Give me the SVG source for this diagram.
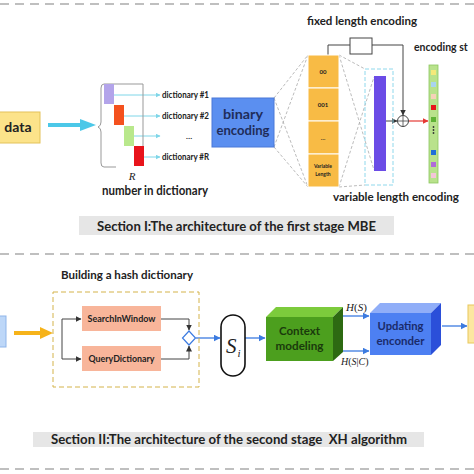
<svg xmlns="http://www.w3.org/2000/svg" width="474" height="474" viewBox="0 0 474 474">
<defs>
<marker id="mk" markerWidth="6" markerHeight="6" refX="5.5" refY="3" orient="auto" markerUnits="userSpaceOnUse"><path d="M0,0 L6,3 L0,6 z" fill="#333"/></marker>
<marker id="mb" markerWidth="7" markerHeight="7" refX="6.5" refY="3.5" orient="auto" markerUnits="userSpaceOnUse"><path d="M0,0 L7,3.5 L0,7 z" fill="#3C7BE0"/></marker>
<marker id="mc" markerWidth="5" markerHeight="5" refX="4.5" refY="2.5" orient="auto" markerUnits="userSpaceOnUse"><path d="M0,0 L5,2.5 L0,5 z" fill="#7FD6E8"/></marker>
<marker id="mr" markerWidth="6" markerHeight="6" refX="5.5" refY="3" orient="auto" markerUnits="userSpaceOnUse"><path d="M0,0 L6,3 L0,6 z" fill="#E53935"/></marker>
</defs>
<style>
.t{font-family:"Lato","Liberation Sans",sans-serif;font-weight:bold;fill:#222}
.sep{stroke:#aaa;stroke-width:1.5;stroke-dasharray:9 6;fill:none}
.gd{stroke:#aaa;stroke-width:0.8;stroke-dasharray:3 2;fill:none}
.ln{stroke:#444;stroke-width:1;fill:none}
.bl{stroke:#3C7BE0;stroke-width:1.3;fill:none}
.m{font-family:"Liberation Serif","DejaVu Serif",serif;fill:#222}
.lab{fill:#E6E6E6}
</style>
<rect width="474" height="474" fill="#fff"/>

<g id="separators">
<line class="sep" x1="0" y1="4" x2="474" y2="4"/>
<line class="sep" x1="0" y1="254" x2="474" y2="254"/>
<line class="sep" x1="0" y1="469" x2="474" y2="469"/>
</g>

<g id="connectors">
<path d="M48,125 H82" stroke="#4CC8E8" stroke-width="4" fill="none"/>
<polygon points="80,119 96,125 80,131" fill="#4CC8E8"/>
<path d="M114,95 H160" stroke="#7FD6E8" stroke-width="1" marker-end="url(#mc)"/>
<path d="M124,116 H160" stroke="#7FD6E8" stroke-width="1" marker-end="url(#mc)"/>
<path d="M134,136 H160" stroke="#7FD6E8" stroke-width="1" marker-end="url(#mc)"/>
<path d="M144,157 H160" stroke="#7FD6E8" stroke-width="1" marker-end="url(#mc)"/>
<path class="gd" d="M274,98 L308,55 M274,147 L308,55 M274,98 L308,187 M274,147 L308,187"/>
<path class="gd" d="M339,55 L365,69 M339,55 L374,170 M339,187 L374,77 M339,187 L365,185"/>
<path class="ln" d="M328,55 V45 H350"/>
<path class="ln" d="M372,45 H403 V115" marker-end="url(#mk)"/>
<path class="ln" d="M386,121 H397" marker-end="url(#mk)"/>
<path d="M409,121 H428" stroke="#E53935" stroke-width="1.2" fill="none" marker-end="url(#mr)"/>
<path d="M14,333 H42" stroke="#F6B31A" stroke-width="4" fill="none"/>
<polygon points="40,327 53,333 40,339" fill="#F6B31A"/>
<path class="ln" d="M62,339 V319 H81" marker-end="url(#mk)"/>
<path class="ln" d="M62,339 V359 H81" marker-end="url(#mk)"/>
<path class="ln" d="M161,319 H189 V330" marker-end="url(#mk)"/>
<path class="ln" d="M161,359 H189 V346" marker-end="url(#mk)"/>
<path class="bl" d="M196,338 H220" marker-end="url(#mb)"/>
<path class="bl" d="M245,338 H265" marker-end="url(#mb)"/>
<path class="bl" d="M343,316 H369" marker-end="url(#mb)"/>
<path class="bl" d="M343,351 H369" marker-end="url(#mb)"/>
<path class="bl" d="M442,326 H467" marker-end="url(#mb)"/>
</g>

<g id="data">
<rect x="-2" y="112" width="42" height="31" fill="#FCE38A" stroke="#E3C25A" stroke-width="1"/>
<text class="t" x="18" y="132" font-size="14" text-anchor="middle">data</text>
</g>

<g id="dictionaries">
<path d="M104,84 Q101,84 101,88 L101,122 Q101,126 98,127 Q101,128 101,132 L101,163 Q101,167 104,167" fill="none" stroke="#999" stroke-width="1"/>
<path d="M104,84 H143 V146 M104,167 H116" fill="none" stroke="#999" stroke-width="1"/>
<rect x="104" y="84" width="10" height="20" fill="#B3A4EA"/>
<rect x="114" y="105" width="10" height="20" fill="#F4511E"/>
<rect x="124" y="126" width="10" height="20" fill="#B9E88C"/>
<rect x="134" y="146" width="10" height="20" fill="#E8141B"/>
<text class="t" x="162" y="98" font-size="9" textLength="47" lengthAdjust="spacingAndGlyphs">dictionary #1</text>
<text class="t" x="162" y="119" font-size="9" textLength="47" lengthAdjust="spacingAndGlyphs">dictionary #2</text>
<text class="t" x="189" y="139" font-size="8" text-anchor="middle">…</text>
<text class="t" x="162" y="160" font-size="9" textLength="47" lengthAdjust="spacingAndGlyphs">dictionary #R</text>
<text class="m" x="132" y="180" font-size="11" font-style="italic" text-anchor="middle">R</text>
<text class="t" x="102" y="195" font-size="12.5" textLength="106" lengthAdjust="spacingAndGlyphs">number in dictionary</text>
</g>

<g id="binary-encoding">
<rect x="212" y="98" width="62" height="49" fill="#5B8FF0" stroke="#4A78D8" stroke-width="1"/>
<text class="t" x="243" y="119" font-size="13" text-anchor="middle" style="fill:#1F2D5A" textLength="40" lengthAdjust="spacingAndGlyphs">binary</text>
<text class="t" x="243" y="135" font-size="13" text-anchor="middle" style="fill:#1F2D5A" textLength="53" lengthAdjust="spacingAndGlyphs">encoding</text>
</g>

<g id="code-column">
<rect x="308" y="55" width="31" height="33" fill="#F8BB45" stroke="#fff" stroke-width="1"/>
<rect x="308" y="88" width="31" height="33" fill="#F8BB45" stroke="#fff" stroke-width="1"/>
<rect x="308" y="121" width="31" height="33" fill="#F8BB45" stroke="#fff" stroke-width="1"/>
<rect x="308" y="154" width="31" height="33" fill="#F8BB45" stroke="#fff" stroke-width="1"/>
<text class="t" x="323" y="74" font-size="6" text-anchor="middle">00</text>
<text class="t" x="323" y="107" font-size="6" text-anchor="middle">001</text>
<text class="t" x="323" y="140" font-size="6" text-anchor="middle">…</text>
<text class="t" x="323" y="168" font-size="5" text-anchor="middle">Variable</text>
<text class="t" x="323" y="176" font-size="5" text-anchor="middle">Length</text>
</g>

<g id="variable-length">
<rect x="365" y="69" width="28" height="116" fill="none" stroke="#8FD8EC" stroke-width="1" stroke-dasharray="4 2"/>
<rect x="374" y="76" width="12" height="95" fill="#6B4CE6"/>
</g>

<g id="fixed-box">
<rect x="350" y="38" width="22" height="16" fill="#fff" stroke="#444" stroke-width="1"/>
</g>

<g id="xor">
<circle cx="403" cy="121" r="5.5" fill="#fff" stroke="#444" stroke-width="1"/>
<path d="M397.5,121 H408.5 M403,115.5 V126.5" stroke="#444" stroke-width="0.8"/>
</g>

<g id="encoding-stream">
<rect x="429" y="65" width="9" height="118" fill="#B9E28C" stroke="#8CC760" stroke-width="0.8"/>
<rect x="431" y="70" width="5" height="5" fill="#F5E97A"/>
<rect x="431" y="82" width="5" height="5" fill="#A9D4F0"/>
<rect x="431" y="94" width="5" height="5" fill="#F6D2B8"/>
<rect x="431" y="105" width="5" height="5" fill="#E8141B"/>
<rect x="431" y="117" width="5" height="5" fill="#5FB336"/>
<circle cx="433.5" cy="127" r="0.9" fill="#333"/>
<circle cx="433.5" cy="130" r="0.9" fill="#333"/>
<circle cx="433.5" cy="133" r="0.9" fill="#333"/>
<rect x="431" y="150" width="5" height="5" fill="#1F6FD8"/>
<rect x="431" y="162" width="5" height="5" fill="#B06BD8"/>
<rect x="431" y="173" width="5" height="5" fill="#F4C6D8"/>
</g>

<g id="labels-I">
<text class="t" x="307" y="25" font-size="12" textLength="110" lengthAdjust="spacingAndGlyphs">fixed length encoding</text>
<text class="t" x="414" y="51" font-size="10.5">encoding st</text>
<text class="t" x="333" y="201" font-size="12" textLength="126" lengthAdjust="spacingAndGlyphs">variable length encoding</text>
</g>

<g id="section-I">
<rect class="lab" x="79" y="216" width="315" height="19"/>
<text class="t" x="97" y="231" font-size="13" textLength="279" lengthAdjust="spacingAndGlyphs">Section I:The architecture of the first stage MBE</text>
</g>

<g id="input-II">
<rect x="-2" y="316" width="8" height="31" fill="#BDD7F8" stroke="#8FB5EA" stroke-width="1"/>
</g>

<g id="hash-dictionary">
<text class="t" x="61" y="279" font-size="12" textLength="132" lengthAdjust="spacingAndGlyphs">Building a hash dictionary</text>
<rect x="53" y="292" width="146" height="95" fill="none" stroke="#D4B34A" stroke-width="1" stroke-dasharray="5 3"/>
</g>

<g id="search-in-window">
<rect x="82" y="306" width="79" height="25" fill="#F8B59A"/>
<text class="t" x="121.5" y="322" font-size="9.5" text-anchor="middle" textLength="68" lengthAdjust="spacingAndGlyphs">SearchInWindow</text>
</g>

<g id="query-dictionary">
<rect x="82" y="346" width="79" height="25" fill="#F8B59A"/>
<text class="t" x="121.5" y="362" font-size="9.5" text-anchor="middle" textLength="66" lengthAdjust="spacingAndGlyphs">QueryDictionary</text>
</g>

<g id="merge">
<polygon points="189,331 195.5,338 189,345 182.5,338" fill="#fff" stroke="#3C7BE0" stroke-width="1.2"/>
</g>

<g id="symbol-si">
<rect x="221" y="315" width="24" height="61" rx="12" ry="12" fill="#fff" stroke="#111" stroke-width="1.6"/>
<text class="m" x="226" y="353" font-size="21" font-style="italic">S</text>
<text class="m" x="237.5" y="357" font-size="11" font-style="italic">i</text>
</g>

<g id="context-modeling">
<polygon points="266,317 276,307 343,307 333,317" fill="#7CCB3C"/>
<polygon points="333,317 343,307 343,352 333,361" fill="#2D6A12"/>
<rect x="266" y="317" width="67" height="44" fill="#4C9F1E"/>
<text class="t" x="299.5" y="335" font-size="12" text-anchor="middle" style="fill:#1A3A0C" textLength="41" lengthAdjust="spacingAndGlyphs">Context</text>
<text class="t" x="299.5" y="350" font-size="12" text-anchor="middle" style="fill:#1A3A0C" textLength="48" lengthAdjust="spacingAndGlyphs">modeling</text>
</g>

<g id="entropy-labels">
<text class="m" x="346" y="311" font-size="11"><tspan font-style="italic">H</tspan>(<tspan font-style="italic">S</tspan>)</text>
<text class="m" x="341" y="365" font-size="10"><tspan font-style="italic">H</tspan>(<tspan font-style="italic">S</tspan>|<tspan font-style="italic">C</tspan>)</text>
</g>

<g id="updating-encoder">
<polygon points="370,313 380,303 441,303 431,313" fill="#90AEF8"/>
<polygon points="431,313 441,303 441,345 431,355" fill="#2B4FD9"/>
<rect x="370" y="313" width="61" height="42" fill="#4D80F2"/>
<text class="t" x="400.5" y="330" font-size="12" text-anchor="middle" style="fill:#1A2B6B" textLength="46" lengthAdjust="spacingAndGlyphs">Updating</text>
<text class="t" x="400.5" y="345" font-size="12" text-anchor="middle" style="fill:#1A2B6B" textLength="48" lengthAdjust="spacingAndGlyphs">enconder</text>
</g>

<g id="output-II">
<rect x="468" y="305" width="8" height="38" fill="#FCE7A0" stroke="#E8C85C" stroke-width="1"/>
</g>

<g id="section-II">
<rect class="lab" x="33" y="432" width="391" height="15"/>
<text class="t" x="51" y="444" font-size="13" textLength="356" lengthAdjust="spacingAndGlyphs" style="white-space:pre">Section II:The architecture of the second stage  XH algorithm</text>
</g>
</svg>
